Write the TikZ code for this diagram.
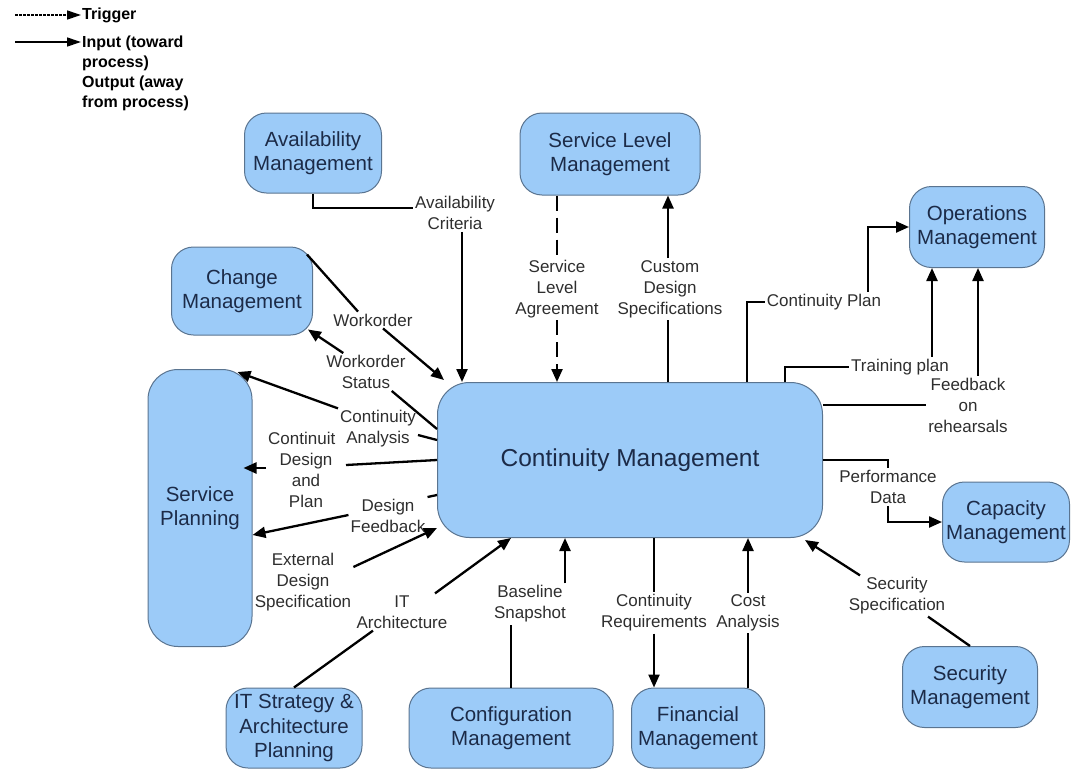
\documentclass[tikz,border=0pt]{standalone}
\usepackage{fontspec}
\setmainfont{Liberation Sans}
\usetikzlibrary{arrows.meta}
\definecolor{procfill}{HTML}{9CCBF8}
\definecolor{procedge}{HTML}{5A7490}
\definecolor{proctext}{HTML}{1C2B48}
\definecolor{lbltext}{HTML}{2E2E2E}
\begin{document}
\begin{tikzpicture}[x=1pt,y=-1pt,
  proc/.style={draw=procedge, fill=procfill, line width=1pt, rounded corners=22pt,
    text=proctext, align=center, inner sep=0pt, font=\fontsize{20.5}{24.5}\selectfont},
  lbl/.style={text=lbltext, align=center, inner sep=2pt, font=\fontsize{17}{21}\selectfont},
  conn/.style={line width=2.3pt, line join=miter},
  arr/.style={conn, -{Triangle[length=13pt,width=11pt]}},
  trig/.style={dash pattern=on 15pt off 7pt},
  legtxt/.style={font=\bfseries\fontsize{16}{20}\selectfont, text=black, inner sep=0pt, align=left},
  legarr/.style={line width=1.3pt, -{Triangle[length=14pt,width=9pt]}}
]
\useasboundingbox (0,0) rectangle (1076,774);

% ---------- legend ----------
\node[legtxt, anchor=west] (lgTrig) at (82,15) {Trigger};
\node[legtxt, anchor=north west] (lgIO) at (82,36) {Input (toward\\process)\\Output (away\\from process)};
\coordinate (lgA) at (15,15);
\coordinate (lgB) at (15,42);
\draw[legarr, dash pattern=on 2.5pt off 1.5pt] (lgA) -- ([xshift=-1pt]lgTrig.west);
\draw[legarr] (lgB) -- ([xshift=-1pt]lgIO.north west |- lgB);

% ---------- processes ----------
\node[proc, minimum width=385pt, minimum height=155pt, rounded corners=32pt,
      font=\fontsize{24.5}{28}\selectfont] (cm) at (630,460) {Continuity Management};
\node[proc, minimum width=137pt, minimum height=80pt] (avail) at (313,153) {Availability\\Management};
\node[proc, minimum width=180pt, minimum height=82pt] (slm) at (610,154) {Service Level\\Management};
\node[proc, minimum width=135pt, minimum height=81pt] (ops) at (977,227) {Operations\\Management};
\node[proc, minimum width=141pt, minimum height=88pt] (chg) at (242,291) {Change\\Management};
\node[proc, minimum width=104pt, minimum height=277pt, rounded corners=30pt] (plan) at (200,508) {Service\\Planning};
\node[proc, minimum width=127pt, minimum height=80pt] (cap) at (1006,522) {Capacity\\Management};
\node[proc, minimum width=135pt, minimum height=81pt] (sec) at (970,687) {Security\\Management};
\node[proc, minimum width=133pt, minimum height=80pt] (fin) at (698,728) {Financial\\Management};
\node[proc, minimum width=204pt, minimum height=80pt] (cfg) at (511,728) {Configuration\\Management};
\node[proc, minimum width=136pt, minimum height=80pt] (its) at (294,728) {IT Strategy \&\\Architecture\\Planning};

% ---------- flow labels ----------
\node[lbl] (lAvail) at (455,213) {Availability\\Criteria};
\node[lbl] (lSLA) at (557,289) {Service\\Level\\Agreement};
\node[lbl] (lCDS) at (670,289) {Custom\\Design\\Specifications};
\node[lbl] (lCP) at (824,302) {Continuity Plan};
\node[lbl] (lTP) at (900,367) {Training plan};
\node[lbl] (lFB) at (968,405) {Feedback\\on\\rehearsals};
\node[lbl] (lPD) at (888,487) {Performance\\Data};
\node[lbl] (lSS) at (897,596) {Security\\Specification};
\node[lbl] (lCA) at (748,613) {Cost\\Analysis};
\node[lbl] (lCR) at (654,613) {Continuity\\Requirements};
\node[lbl] (lBS) at (530,604) {Baseline\\Snapshot};
\node[lbl] (lIT) at (402,612) {IT\\Architecture};
\node[lbl] (lEDS) at (303,582) {External\\Design\\Specification};
\node[lbl] (lDF) at (388,516) {Design\\Feedback};
\node[lbl] (lCDP) at (306,470) {Continuit\phantom{y}\\Design\\and\\Plan};
\node[lbl] (lCAn) at (378,429) {Continuity\\Analysis};
\node[lbl] (lWS) at (366,372) {Workorder\\Status};
\node[lbl] (lWO) at (373,320) {Workorder};

% ---------- flows ----------
% availability criteria
\draw[conn] (avail.south) |- ([yshift=5pt]lAvail.west);
\draw[arr] ([xshift=7pt]lAvail.south) -- ([xshift=7pt]lAvail.south |- cm.north);
% service level agreement (trigger)
\draw[conn, trig] (lSLA.north |- slm.south) -- (lSLA.north);
\draw[arr, trig] (lSLA.south) -- (lSLA.south |- cm.north);
% custom design specifications
\draw[conn] ([xshift=-2pt]lCDS.south |- cm.north) -- ([xshift=-2pt]lCDS.south);
\draw[arr] ([xshift=-2pt]lCDS.north) -- ([xshift=-2pt]lCDS.north |- slm.south);
% continuity plan
\draw[conn] ([xshift=117pt]cm.north) |- (lCP.west);
\draw[arr] ([xshift=44pt]lCP.north) |- (ops.west);
% training plan
\draw[conn] ([xshift=155pt]cm.north) |- (lTP.west);
\draw[arr] ([xshift=32pt]lTP.north) -- ([xshift=32pt]lTP.north |- ops.south);
% feedback on rehearsals
\draw[conn] (lFB.west -| cm.east) -- (lFB.west);
\draw[arr] ([xshift=10pt]lFB.north) -- ([xshift=10pt]lFB.north |- ops.south);
% performance data
\draw[conn] (cm.east) -| (lPD.north);
\draw[arr] (lPD.south) |- (cap.west);
% security specification
\draw[conn] (sec.north) -- ([xshift=31pt]lSS.south);
\draw[arr] ([xshift=-37pt]lSS.north) -- ([xshift=-18pt,yshift=-2pt]cm.south east);
% cost analysis
\draw[conn] (lCA.south |- fin.north) -- (lCA.south);
\draw[arr] (lCA.north) -- (lCA.north |- cm.south);
% continuity requirements
\draw[conn] (lCR.north |- cm.south) -- (lCR.north);
\draw[arr] (lCR.south) -- (lCR.south |- fin.north);
% baseline snapshot
\draw[conn] (cfg.north) -- (cfg.north |- lBS.south);
\draw[arr] ([xshift=35pt]lBS.north) -- ([xshift=35pt]lBS.north |- cm.south);
% IT architecture
\draw[conn] (its.north) -- ([xshift=-29pt]lIT.south);
\draw[arr] ([xshift=33pt]lIT.north) -- ([xshift=74pt]cm.south west);
% external design specification
\draw[arr] ([yshift=15pt]lEDS.east) -- ([yshift=10pt]cm.south west);
% design feedback
\draw[conn] ([yshift=-35pt]cm.west) -- ([yshift=19pt]lDF.east);
\draw[arr] ([yshift=1pt]lDF.west) -- ([yshift=-27pt]plan.east);
% continuity design and plan
\draw[conn] (cm.west) -- ([yshift=5pt]lCDP.east);
\draw[arr] ([yshift=2pt]lCDP.west) -- ([xshift=-9pt,yshift=40pt]plan.east);
% continuity analysis
\draw[conn] ([yshift=20pt]cm.west) -- ([yshift=-6pt]lCAn.east);
\draw[arr] (lCAn.north west) -- ([xshift=-15pt,yshift=-3pt]plan.north east);
% workorder status
\draw[conn] ([yshift=31pt]cm.west) -- ([xshift=-16pt]lWS.south east);
\draw[arr] ([xshift=19pt]lWS.north west) -- ([xshift=-5pt,yshift=6pt]chg.south east);
% workorder
\draw[conn] ([xshift=-6pt,yshift=-8pt]chg.north east) -- ([xshift=-15pt]lWO.north);
\draw[arr] ([xshift=10pt]lWO.south) -- ([xshift=7pt,yshift=2pt]cm.north west);
\end{tikzpicture}
\end{document}
